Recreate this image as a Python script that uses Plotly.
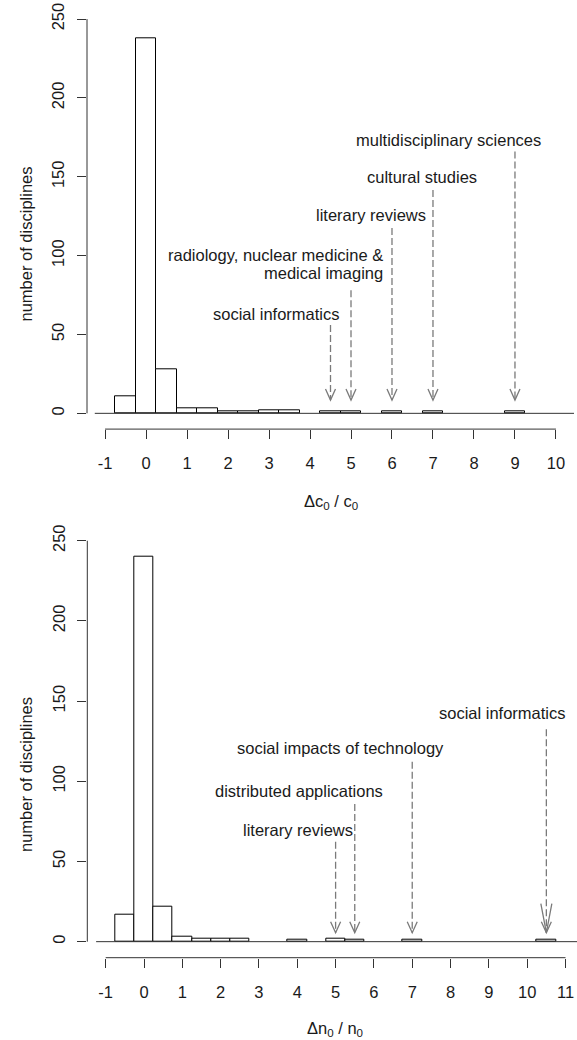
import plotly.graph_objects as go

# ---------------- data ----------------
top_bin_centers = [-0.5, 0, 0.5, 1, 1.5, 2, 2.5, 3, 3.5, 4.5, 5, 6, 7, 9]
top_counts = [11, 238, 28, 3, 3, 1, 1, 2, 2, 1, 1, 1, 1, 1]
bot_bin_centers = [-0.5, 0, 0.5, 1, 1.5, 2, 2.5, 4, 5, 5.5, 7, 10.5]
bot_counts = [17, 240, 22, 3, 2, 2, 2, 1, 2, 1, 1, 1]
bin_width = 0.5

top_xticks = [-1, 0, 1, 2, 3, 4, 5, 6, 7, 8, 9, 10]
bot_xticks = [-1, 0, 1, 2, 3, 4, 5, 6, 7, 8, 9, 10, 11]
yticks = [0, 50, 100, 150, 200, 250]

# arrows: x position, start (top of shaft), tip
top_arrow_x = [4.5, 5, 6, 7, 9]
top_arrow_start = [56, 78, 117.5, 141.6, 166]
top_arrow_tip = [8.4, 8.4, 8.4, 8.4, 8.4]
bot_arrow_x = [5, 5.5, 7, 10.5]
bot_arrow_start = [62.3, 85.8, 112.2, 132.4]
bot_arrow_tip = [5.6, 5.6, 5.6, 5.6]

# labels: text, x, y, xanchor
top_labels = ["social informatics", "radiology, nuclear medicine &", "medical imaging",
              "literary reviews", "cultural studies", "multidisciplinary sciences"]
top_label_x = [3.19, 5.83, 5.83, 5.48, 6.72, 7.39]
top_label_y = [63, 100.4, 88.8, 125.7, 149.7, 173.3]
top_label_anchor = ["center", "right", "right", "center", "center", "center"]

bot_labels = ["literary reviews", "distributed applications",
              "social impacts of technology", "social informatics"]
bot_label_x = [4.03, 4.04, 5.13, 9.36]
bot_label_y = [69.6, 94.0, 120.6, 142.4]

# ---------------- style ----------------
W, H = 577, 1040
FONT = "Liberation Sans, Arial, sans-serif"
FS = 16.5
AX_COL = "#333333"
TXT_COL = "#1a1a1a"
ARROW_COL = "#7a7a7a"


def px(x):
    return min(1.0, max(0.0, x / W))


def py(y):
    return min(1.0, max(0.0, 1 - y / H))


top_xrange = [-1.44, 10.44]
bot_xrange = [-1.48, 11.30]
yrange = [-10, 260]
baseline_start = -1.25

top_xdom = [px(87), px(574)]
top_ydom = [py(429.1), py(3.3)]
bot_xdom = [px(87.3), 1.0]
bot_ydom = [py(957.7), py(524.7)]

fig = go.Figure()

fig.add_trace(go.Bar(x=top_bin_centers, y=top_counts, width=bin_width,
                     marker=dict(color="white", line=dict(color="black", width=1)),
                     xaxis="x", yaxis="y", showlegend=False, hoverinfo="x+y"))
fig.add_trace(go.Bar(x=bot_bin_centers, y=bot_counts, width=bin_width,
                     marker=dict(color="white", line=dict(color="black", width=1)),
                     xaxis="x2", yaxis="y2", showlegend=False, hoverinfo="x+y"))

shapes = []
annotations = []


def axes_shapes(xr, yr, xticks, xrange_):
    # y axis line from first to last tick
    shapes.append(dict(type="line", xref=xr + " domain", yref=yr, x0=0, x1=0,
                       y0=yticks[0], y1=yticks[-1], line=dict(color=AX_COL, width=1)))
    # x axis line from first to last tick
    shapes.append(dict(type="line", xref=xr, yref=yr + " domain", x0=xticks[0], x1=xticks[-1],
                       y0=0, y1=0, line=dict(color=AX_COL, width=1)))
    # baseline at zero
    shapes.append(dict(type="line", xref=xr, yref=yr, x0=baseline_start, x1=xrange_[1],
                       y0=0, y1=0, line=dict(color=AX_COL, width=1)))


def arrows(xr, yr, xs, starts, tips, long_head_x=None):
    for x, s, t in zip(xs, starts, tips):
        shapes.append(dict(type="line", xref=xr, yref=yr, x0=x, x1=x, y0=s, y1=t,
                           line=dict(color=ARROW_COL, width=1.3, dash="7px,3px")))
        shapes.append(dict(type="path", xref=xr, yref=yr, xsizemode="pixel", ysizemode="pixel",
                           xanchor=x, yanchor=t, path="M -5 11 L 0 0 L 5 11",
                           line=dict(color=ARROW_COL, width=1.3)))
        if long_head_x is not None and x == long_head_x:
            shapes.append(dict(type="path", xref=xr, yref=yr, xsizemode="pixel", ysizemode="pixel",
                               xanchor=x, yanchor=t, path="M -5.5 29 L 0 0 L 5.5 29",
                               line=dict(color=ARROW_COL, width=1.3)))


axes_shapes("x", "y", top_xticks, top_xrange)
axes_shapes("x2", "y2", bot_xticks, bot_xrange)
arrows("x", "y", top_arrow_x, top_arrow_start, top_arrow_tip)
arrows("x2", "y2", bot_arrow_x, bot_arrow_start, bot_arrow_tip, long_head_x=10.5)

for t, x, y, a in zip(top_labels, top_label_x, top_label_y, top_label_anchor):
    annotations.append(dict(text=t, x=x, y=y, xref="x", yref="y", xanchor=a, yanchor="middle",
                            showarrow=False, font=dict(family=FONT, size=FS, color=TXT_COL)))
for t, x, y in zip(bot_labels, bot_label_x, bot_label_y):
    annotations.append(dict(text=t, x=x, y=y, xref="x2", yref="y2", xanchor="center", yanchor="middle",
                            showarrow=False, font=dict(family=FONT, size=FS, color=TXT_COL)))

# axis titles
annotations.append(dict(text="number of disciplines", textangle=-90, x=px(26), y=py(244.5),
                        xref="paper", yref="paper", xanchor="center", yanchor="middle",
                        showarrow=False, font=dict(family=FONT, size=FS, color=TXT_COL)))
annotations.append(dict(text="number of disciplines", textangle=-90, x=px(26), y=py(775),
                        xref="paper", yref="paper", xanchor="center", yanchor="middle",
                        showarrow=False, font=dict(family=FONT, size=FS, color=TXT_COL)))
annotations.append(dict(text="Δc<sub>0</sub> / c<sub>0</sub>", x=px(330.5), y=py(501.7),
                        xref="paper", yref="paper", xanchor="center", yanchor="middle",
                        showarrow=False, font=dict(family=FONT, size=FS, color=TXT_COL)))
annotations.append(dict(text="Δn<sub>0</sub> / n<sub>0</sub>", x=px(335), y=py(1029),
                        xref="paper", yref="paper", xanchor="center", yanchor="middle",
                        showarrow=False, font=dict(family=FONT, size=FS, color=TXT_COL)))

xcommon = dict(showgrid=False, zeroline=False, showline=False, ticks="outside", ticklen=9,
               tickwidth=1, tickcolor=AX_COL, tickmode="array", ticklabelstandoff=10,
               automargin=False, ticklabeloverflow="allow",
               tickfont=dict(family=FONT, size=FS, color=TXT_COL))
ycommon = dict(showgrid=False, zeroline=False, showline=False, ticks="outside", ticklen=9,
               tickwidth=1, tickcolor=AX_COL, tickmode="array", tickvals=yticks,
               ticktext=[str(v) for v in yticks], tickangle=-90, ticklabelstandoff=6,
               automargin=False, ticklabeloverflow="allow", range=yrange,
               tickfont=dict(family=FONT, size=FS, color=TXT_COL))

fig.update_layout(
    template="none",
    width=W, height=H,
    margin=dict(l=0, r=0, t=0, b=0, pad=0),
    paper_bgcolor="white", plot_bgcolor="white",
    bargap=0, showlegend=False,
    xaxis=dict(domain=top_xdom, range=top_xrange, anchor="y", tickvals=top_xticks,
               ticktext=[str(v) for v in top_xticks], **xcommon),
    yaxis=dict(domain=top_ydom, anchor="x", **ycommon),
    xaxis2=dict(domain=bot_xdom, range=bot_xrange, anchor="y2", tickvals=bot_xticks,
                ticktext=[str(v) for v in bot_xticks], **xcommon),
    yaxis2=dict(domain=bot_ydom, anchor="x2", **ycommon),
    shapes=shapes,
    annotations=annotations,
)

# remove the browser's default page margin so the 577x1040 figure fills the window
fig.write_html("out.html",
               config={"displayModeBar": False},
               post_script="document.body.style.margin='0';document.body.style.overflow='hidden';")
